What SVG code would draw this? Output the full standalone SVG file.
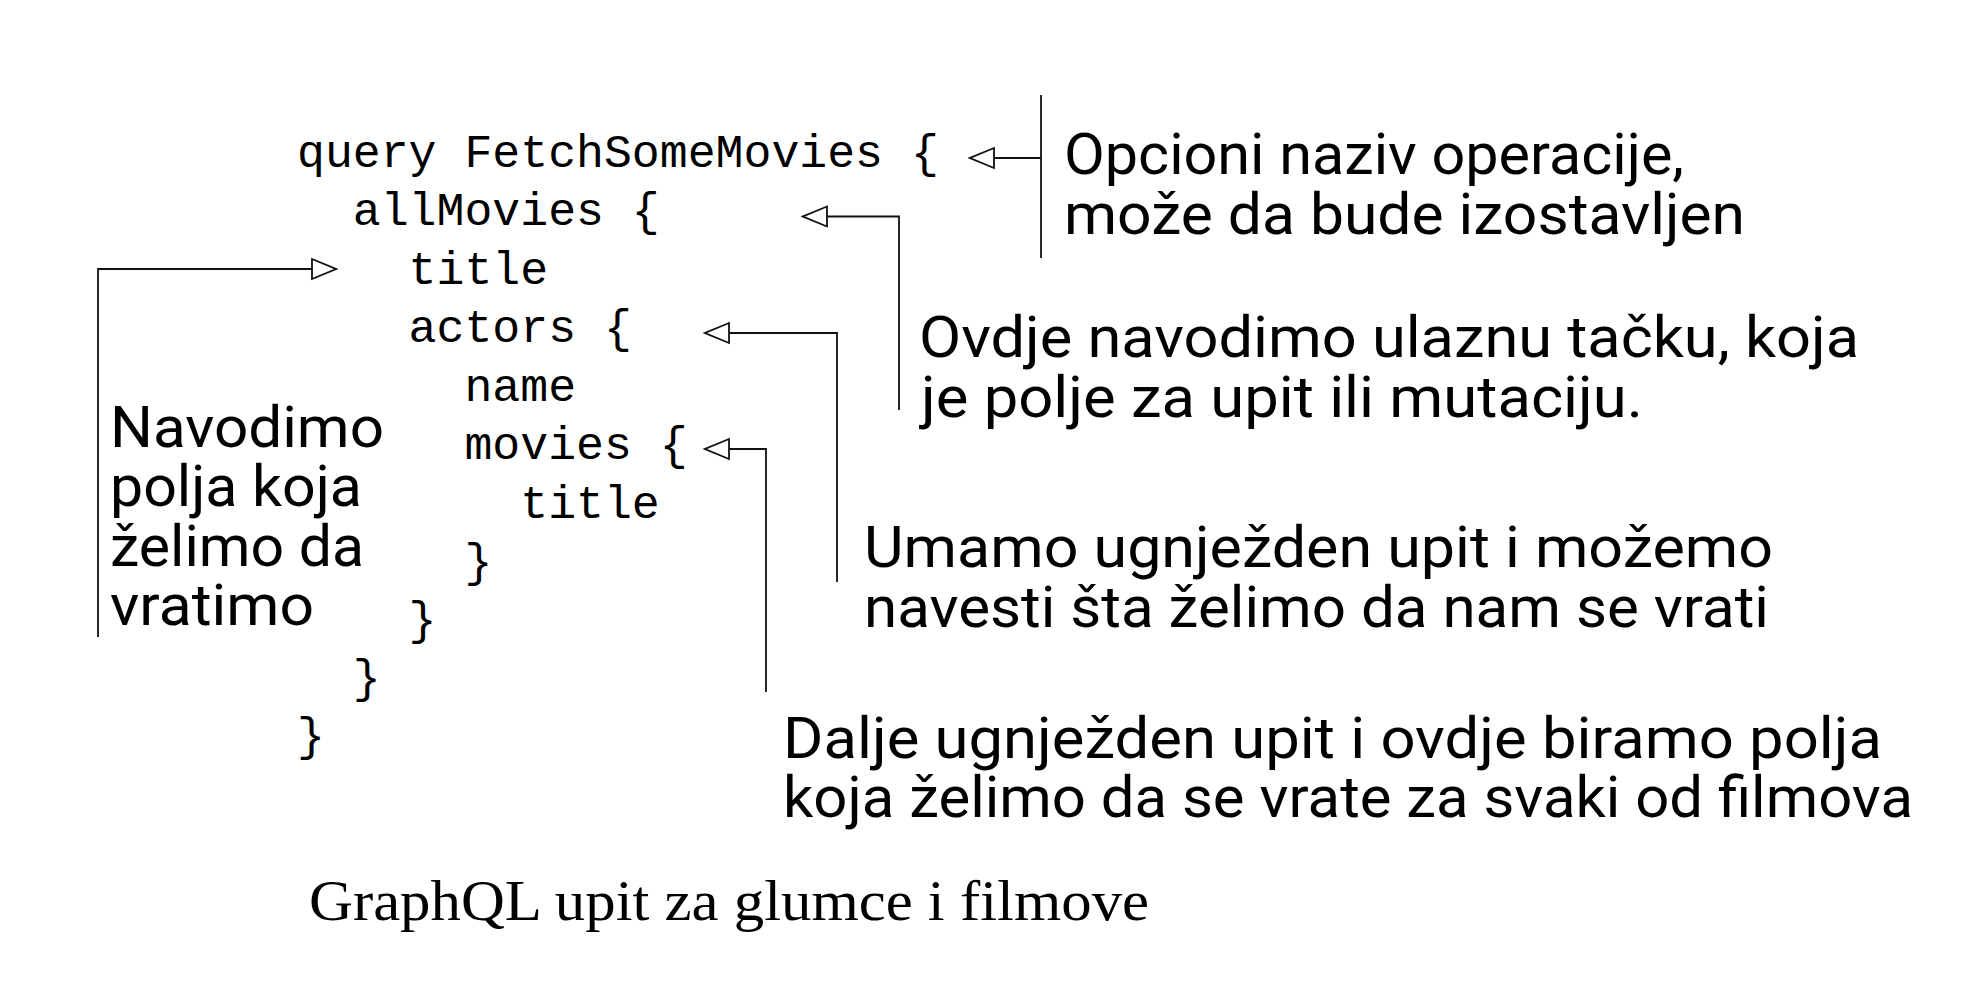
<svg xmlns="http://www.w3.org/2000/svg" width="1964" height="990" viewBox="0 0 1964 990">
<style>
.code{font-family:"Courier New","Liberation Mono",monospace;font-size:46.5px;fill:#000}
.note{font-family:Roboto,"Liberation Sans",sans-serif;font-size:58px;fill:#000}
.cap{font-family:"Liberation Serif","DejaVu Serif",serif;font-size:57px;fill:#000}
.ln{fill:none;stroke:#111;stroke-width:1.8}
</style>
<defs>
<marker id="tri" markerUnits="userSpaceOnUse" markerWidth="28" markerHeight="24" viewBox="-2 -2 28 24" refX="24" refY="10" orient="auto">
<path d="M0,0 L24,10 L0,20 Z" fill="#fff" stroke="#111" stroke-width="1.8"/>
</marker>
</defs>
<rect width="1964" height="990" fill="#fff"/>
<g id="code">
<text class="code" x="297" y="166.5" xml:space="preserve">query FetchSomeMovies {</text>
<text class="code" x="297" y="225" xml:space="preserve">  allMovies {</text>
<text class="code" x="297" y="283.5" xml:space="preserve">    title</text>
<text class="code" x="297" y="342" xml:space="preserve">    actors {</text>
<text class="code" x="297" y="400.5" xml:space="preserve">      name</text>
<text class="code" x="297" y="459" xml:space="preserve">      movies {</text>
<text class="code" x="297" y="517.5" xml:space="preserve">        title</text>
<text class="code" x="297" y="575.5" xml:space="preserve">      }</text>
<text class="code" x="297" y="633.5" xml:space="preserve">    }</text>
<text class="code" x="297" y="691.5" xml:space="preserve">  }</text>
<text class="code" x="297" y="749.5" xml:space="preserve">}</text>
</g>
<g id="connectors">
<path class="ln" d="M1041,95 V258"/>
<path class="ln" d="M1041,158 H970" marker-end="url(#tri)"/>
<path class="ln" d="M899,410 V216.5 H803" marker-end="url(#tri)"/>
<path class="ln" d="M837,582 V333 H705" marker-end="url(#tri)"/>
<path class="ln" d="M766,692 V449 H705" marker-end="url(#tri)"/>
<path class="ln" d="M98,637 V269 H336" marker-end="url(#tri)"/>
</g>
<g id="note-operation">
<text class="note" x="1064" y="174" textLength="620" lengthAdjust="spacingAndGlyphs">Opcioni naziv operacije,</text>
<text class="note" x="1064" y="234" textLength="681" lengthAdjust="spacingAndGlyphs">može da bude izostavljen</text>
</g>
<g id="note-entry">
<text class="note" x="919" y="357" textLength="940" lengthAdjust="spacingAndGlyphs">Ovdje navodimo ulaznu tačku, koja</text>
<text class="note" x="921" y="416.5" textLength="722" lengthAdjust="spacingAndGlyphs">je polje za upit ili mutaciju.</text>
</g>
<g id="note-nested">
<text class="note" x="864" y="567" textLength="909" lengthAdjust="spacingAndGlyphs">Umamo ugnježden upit i možemo</text>
<text class="note" x="864" y="627" textLength="905" lengthAdjust="spacingAndGlyphs">navesti šta želimo da nam se vrati</text>
</g>
<g id="note-deeper">
<text class="note" x="783" y="758" textLength="1099" lengthAdjust="spacingAndGlyphs">Dalje ugnježden upit i ovdje biramo polja</text>
<text class="note" x="783" y="817" textLength="1130" lengthAdjust="spacingAndGlyphs">koja želimo da se vrate za svaki od filmova</text>
</g>
<g id="note-fields">
<text class="note" x="110" y="447" textLength="274" lengthAdjust="spacingAndGlyphs">Navodimo</text>
<text class="note" x="110" y="506" textLength="252" lengthAdjust="spacingAndGlyphs">polja koja</text>
<text class="note" x="110" y="566" textLength="254" lengthAdjust="spacingAndGlyphs">želimo da</text>
<text class="note" x="110" y="625" textLength="204" lengthAdjust="spacingAndGlyphs">vratimo</text>
</g>
<g id="caption">
<text class="cap" x="309" y="920" textLength="840" lengthAdjust="spacingAndGlyphs">GraphQL upit za glumce i filmove</text>
</g>
</svg>
